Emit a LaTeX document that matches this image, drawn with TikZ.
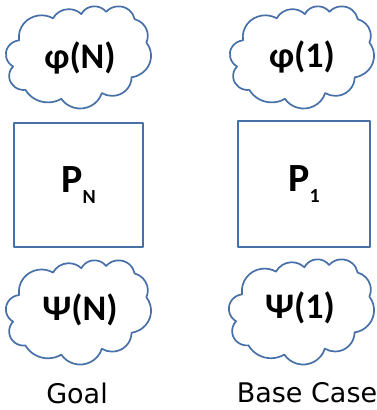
\documentclass[tikz,border=0pt]{standalone}
\usepackage{fontspec}
\setmainfont{Carlito}
\newfontfamily\capfont{DejaVu Sans}
\definecolor{edgeblue}{RGB}{71,112,168}
\tikzset{
  outline/.style={draw=edgeblue, line width=1.7pt, line join=round},
  label/.style={inner sep=0pt, font=\fontsize{36}{38}\selectfont\bfseries},
  frame/.style={outline, inner sep=0pt,
    font=\fontsize{40}{42}\selectfont\bfseries},
  caption/.style={font=\capfont\fontsize{27}{29}\selectfont}
}
% Cloud outline in a 432 x 432 design box (y down); each arc is given as
% visual start angle / sweep / x radius / y radius and converted to
% parametric angles for TikZ.
\newcommand\cloudoutline[4]{% left, top, width, height
  \begin{scope}[shift={(#1,#2)}, xscale=#3/432, yscale=#4/432]
    \draw[outline] (39,143.7)
    \foreach \s/\w/\a/\b in {
      -190.49/123.78/67.53/91.90,
      -144.10/89.95/53.33/72.67,
      -145.81/99.72/43.65/59.45,
      -130.99/117.24/48.57/65.95,
      -78.71/109.03/53.33/72.73,
      -46.27/130.27/67.75/92.20,
      0.625/114.03/57.85/78.67,
      22.45/115.17/67.52/92.15,
      66.24/75.71/77.20/105.43,
      -274.94/146.74/43.60/59.18,
      -246.83/152.52/43.45/59.45} {
      arc[start angle={atan2(sin(\s)/\b,cos(\s)/\a)},
          delta angle={mod(atan2(sin(\s+\w)/\b,cos(\s+\w)/\a)-atan2(sin(\s)/\b,cos(\s)/\a)+720,360)},
          x radius=\a, y radius=\b]
    } -- cycle;
  \end{scope}}
\begin{document}
\begin{tikzpicture}[x=1pt,y=-1pt]
\useasboundingbox (0,0) rectangle (377,410);
% goal column
\cloudoutline{6}{6}{145}{102}
\node[label] (phiN) at (80,58) {φ(N)};
\node[frame, minimum width=129pt, minimum height=124pt] (PN) at (78.5,185) {P\raisebox{-0.6ex}{\fontsize{20}{21}\selectfont N}};
\cloudoutline{6}{260}{145}{104}
\node[label] (psiN) at (80,310) {Ψ(N)};
\node[caption] (goal) at (77,393) {Goal};
% base case column
\cloudoutline{230}{6}{144}{102}
\node[label] (phi1) at (302,57) {φ(1)};
\node[frame, minimum width=132pt, minimum height=126pt] (P1) at (304,184) {P\raisebox{-0.6ex}{\fontsize{20}{21}\selectfont 1}};
\cloudoutline{229}{259}{145}{105}
\node[label] (psi1) at (300,308) {Ψ(1)};
\node[caption] (base) at (307,393) {Base Case};
\end{tikzpicture}
\end{document}
